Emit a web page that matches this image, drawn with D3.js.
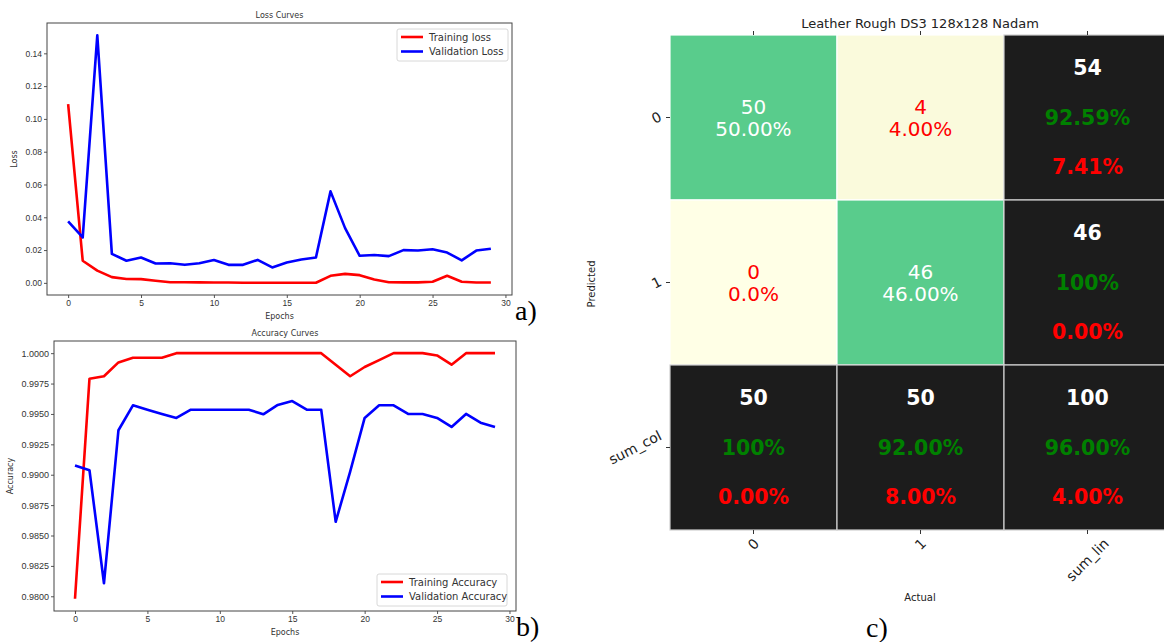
<!DOCTYPE html>
<html>
<head>
<meta charset="utf-8">
<script src="https://cdn.jsdelivr.net/npm/d3@7"></script>
<style>
  body { margin: 0; background: #fff; }
  svg { font-family: "DejaVu Sans", sans-serif; }
</style>
</head>
<body>
<script>
var W = 1164, H = 642;

// ---- data ----
var epochs = d3.range(30);
var trainLoss = [0.109, 0.0135, 0.0075, 0.0035, 0.0024, 0.0023, 0.0013, 0.0004, 0.0004, 0.0003,
                 0.0002, 0.0002, 0.0001, 0.0001, 0.0001, 0.0001, 0.0001, 0.0001, 0.0043, 0.0055,
                 0.0047, 0.002, 0.0004, 0.0003, 0.0003, 0.0007, 0.0043, 0.0007, 0.0002, 0.0002];
var valLoss = [0.0375, 0.0277, 0.151, 0.0177, 0.0135, 0.0155, 0.0118, 0.012, 0.011, 0.012,
               0.0139, 0.011, 0.011, 0.014, 0.0094, 0.0124, 0.0142, 0.0155, 0.0558, 0.0334,
               0.0165, 0.017, 0.0163, 0.020, 0.0197, 0.0205, 0.0185, 0.0137, 0.0197, 0.0208];
var trainAcc = [0.9798, 0.9979, 0.9981, 0.99924, 0.99962, 0.99962, 0.99962, 1, 1, 1,
                1, 1, 1, 1, 1, 1, 1, 1, 0.99905, 0.9981,
                0.99886, 0.99943, 1, 1, 1, 0.99981, 0.99905, 1, 1, 1];
var valAcc = [0.99076, 0.99037, 0.98107, 0.99366, 0.99571, 0.99535, 0.995, 0.99467, 0.99535, 0.99535,
              0.99535, 0.99535, 0.99535, 0.99497, 0.99574, 0.99606, 0.99535, 0.99535, 0.98613, 0.99026,
              0.99467, 0.99571, 0.99571, 0.995, 0.995, 0.99467, 0.99393, 0.995, 0.99428, 0.99393];

var cmCols = ["0", "1", "sum_lin"];
var cmRows = ["0", "1", "sum_col"];
var cmCounts = [[50, 4], [0, 46]];
var cmPct = [["50.00%", "4.00%"], ["0.0%", "46.00%"]];
var rowSums = [54, 46];
var rowGood = ["92.59%", "100%"];
var rowBad = ["7.41%", "0.00%"];
var colSums = [50, 50];
var colGood = ["100%", "92.00%"];
var colBad = ["0.00%", "8.00%"];
var total = 100, totalGood = "96.00%", totalBad = "4.00%";

var svg = d3.select("body").append("svg")
    .attr("width", W)
    .attr("height", H);

// ---- line chart helper ----
function lineChart(box, series, yTicks, yFmt, yDomain, title, yLabel, legendBox, yFont) {
    var x = d3.scaleLinear().domain([-1.45, 30.45]).range([box.l, box.r]);
    var y = d3.scaleLinear().domain(yDomain).range([box.b, box.t]);
    var g = svg.append("g");

    var xAxis = g.append("g")
        .attr("transform", "translate(0," + box.b + ")")
        .call(d3.axisBottom(x).tickValues([0, 5, 10, 15, 20, 25, 30]).tickSize(3).tickPadding(2));
    var yAxis = g.append("g")
        .attr("transform", "translate(" + box.l + ",0)")
        .call(d3.axisLeft(y).tickValues(yTicks).tickFormat(d3.format(yFmt)).tickSize(3).tickPadding(2));
    xAxis.selectAll("text").attr("font-size", 8.5).attr("fill", "#333");
    yAxis.selectAll("text").attr("font-size", yFont).attr("fill", "#333");
    g.selectAll(".domain").remove();
    g.selectAll(".tick line").attr("stroke", "#555");

    var line = d3.line()
        .x(function(d, i) { return x(epochs[i]); })
        .y(function(d) { return y(d); });

    series.forEach(function(s) {
        g.append("path")
            .datum(s.values)
            .attr("d", line)
            .attr("fill", "none")
            .attr("stroke", s.color)
            .attr("stroke-width", 2.6)
            .attr("stroke-linejoin", "round");
    });

    g.append("rect")
        .attr("x", box.l).attr("y", box.t)
        .attr("width", box.r - box.l).attr("height", box.b - box.t)
        .attr("fill", "none").attr("stroke", "#444").attr("stroke-width", 1);

    g.append("text")
        .attr("x", (box.l + box.r) / 2).attr("y", box.t - 5)
        .attr("text-anchor", "middle").attr("font-size", 8).attr("fill", "#333")
        .text(title);
    g.append("text")
        .attr("x", (box.l + box.r) / 2).attr("y", box.b + 24)
        .attr("text-anchor", "middle").attr("font-size", 8).attr("fill", "#333")
        .text("Epochs");
    g.append("text")
        .attr("transform", "translate(" + yLabel.x + "," + ((box.t + box.b) / 2) + ") rotate(-90)")
        .attr("text-anchor", "middle").attr("font-size", 8).attr("fill", "#333")
        .text(yLabel.text);

    // legend
    var lg = g.append("g");
    lg.append("rect")
        .attr("x", legendBox.x).attr("y", legendBox.y)
        .attr("width", legendBox.w).attr("height", 32)
        .attr("rx", 2).attr("fill", "#fff").attr("stroke", "#d8d8d8");
    series.forEach(function(s, i) {
        var ly = legendBox.y + 8 + i * 14.5;
        lg.append("line")
            .attr("x1", legendBox.x + 4).attr("x2", legendBox.x + 26)
            .attr("y1", ly).attr("y2", ly)
            .attr("stroke", s.color).attr("stroke-width", 2.6);
        lg.append("text")
            .attr("x", legendBox.x + 32).attr("y", ly + 3.5)
            .attr("font-size", 10).attr("fill", "#333")
            .text(s.name);
    });
}

lineChart({l: 47, t: 23, r: 512, b: 295},
    [{name: "Training loss", values: trainLoss, color: "#ff0000"},
     {name: "Validation Loss", values: valLoss, color: "#0000ff"}],
    [0, 0.02, 0.04, 0.06, 0.08, 0.10, 0.12, 0.14], ".2f", [-0.0074, 0.1585],
    "Loss Curves", {x: 17, text: "Loss"}, {x: 397, y: 29, w: 111}, 8.5);

lineChart({l: 54, t: 341, r: 516, b: 611},
    [{name: "Training Accuracy", values: trainAcc, color: "#ff0000"},
     {name: "Validation Accuracy", values: valAcc, color: "#0000ff"}],
    d3.range(0, 9).map(function(i) { return 0.98 + i * 0.0025; }), ".4f", [0.97879, 1.001],
    "Accuracy Curves", {x: 13, text: "Accuracy"}, {x: 377, y: 574, w: 130}, 9);

// ---- confusion matrix ----
var cx = d3.scaleBand().domain(cmCols).range([670, 1171]);
var cy = d3.scaleBand().domain(cmRows).range([35, 530]);
var bw = cx.bandwidth(), bh = cy.bandwidth();
var cm = svg.append("g");

var cells = [];
cmRows.forEach(function(r, i) {
    cmCols.forEach(function(c, j) {
        cells.push({r: r, c: c, i: i, j: j});
    });
});

function cellFill(d) {
    if (d.i == 2 || d.j == 2) return "#1c1c1c";
    if (d.i == d.j) return "#59cc8c";
    return cmCounts[d.i][d.j] > 0 ? "#fafadc" : "#ffffe6";
}

cm.selectAll("rect.cell")
    .data(cells)
    .enter()
    .append("rect")
    .attr("class", "cell")
    .attr("x", function(d) { return cx(d.c); })
    .attr("y", function(d) { return cy(d.r); })
    .attr("width", bw)
    .attr("height", bh)
    .attr("fill", cellFill)
    .attr("stroke", function(d) { return (d.i == 2 || d.j == 2) ? "#cfcfcf" : "#ffffff"; })
    .attr("stroke-width", 1.2);

cells.forEach(function(d) {
    var mx = cx(d.c) + bw / 2, my = cy(d.r) + bh / 2;
    if (d.i < 2 && d.j < 2) {
        var col = d.i == d.j ? "#ffffff" : "#ff0000";
        cm.append("text").attr("x", mx).attr("y", my - 11 + 7)
            .attr("text-anchor", "middle").attr("font-size", 20).attr("fill", col)
            .text(cmCounts[d.i][d.j]);
        cm.append("text").attr("x", mx).attr("y", my + 11 + 7)
            .attr("text-anchor", "middle").attr("font-size", 20).attr("fill", col)
            .text(cmPct[d.i][d.j]);
    } else {
        var cnt, good, bad;
        if (d.i == 2 && d.j == 2) { cnt = total; good = totalGood; bad = totalBad; }
        else if (d.j == 2) { cnt = rowSums[d.i]; good = rowGood[d.i]; bad = rowBad[d.i]; }
        else { cnt = colSums[d.j]; good = colGood[d.j]; bad = colBad[d.j]; }
        [[cnt, "#ffffff", -50], [good, "#008000", 0], [bad, "#ff0000", 49]].forEach(function(t) {
            cm.append("text").attr("x", mx).attr("y", my + t[2] + 7)
                .attr("text-anchor", "middle").attr("font-size", 20.5)
                .attr("font-weight", "bold").attr("fill", t[1])
                .text(t[0]);
        });
    }
});

// ticks
cmCols.forEach(function(c) {
    var tx = cx(c) + bw / 2;
    cm.append("line").attr("x1", tx).attr("x2", tx).attr("y1", 31).attr("y2", 35).attr("stroke", "#333");
    cm.append("line").attr("x1", tx).attr("x2", tx).attr("y1", 530).attr("y2", 534).attr("stroke", "#333");
    var t = cm.append("text").attr("font-size", 14).attr("fill", "#222")
        .attr("text-anchor", "middle").attr("dy", "0.35em").text(c);
    var w = t.node().getComputedTextLength(), h = 11;
    var half = (w + h) / (2 * Math.SQRT2);
    t.attr("transform", "translate(" + tx + "," + (537 + half) + ") rotate(-45)");
});
cmRows.forEach(function(r) {
    var ty = cy(r) + bh / 2;
    cm.append("line").attr("x1", 666).attr("x2", 670).attr("y1", ty).attr("y2", ty).attr("stroke", "#333");
    var t = cm.append("text").attr("font-size", 14).attr("fill", "#222")
        .attr("text-anchor", "middle").attr("dy", "0.35em").text(r);
    var w = t.node().getComputedTextLength(), h = 11;
    var a = 27 * Math.PI / 180;
    var bwid = w * Math.cos(a) + h * Math.sin(a);
    t.attr("transform", "translate(" + (663 - bwid / 2) + "," + ty + ") rotate(-27)");
});

cm.append("text").attr("x", 920).attr("y", 28)
    .attr("text-anchor", "middle").attr("font-size", 13).attr("fill", "#222")
    .text("Leather Rough DS3 128x128 Nadam");
cm.append("text").attr("x", 920).attr("y", 601)
    .attr("text-anchor", "middle").attr("font-size", 10).attr("fill", "#222")
    .text("Actual");
cm.append("text").attr("transform", "translate(595,284) rotate(-90)")
    .attr("text-anchor", "middle").attr("font-size", 10).attr("fill", "#222")
    .text("Predicted");

// panel letters
[["a)", 515, 320], ["b)", 516, 636], ["c)", 866, 637]].forEach(function(p) {
    svg.append("text").attr("x", p[1]).attr("y", p[2])
        .attr("font-family", "'Liberation Serif', 'Times New Roman', serif")
        .attr("font-size", 28).attr("fill", "#000")
        .text(p[0]);
});
</script>
</body>
</html>
